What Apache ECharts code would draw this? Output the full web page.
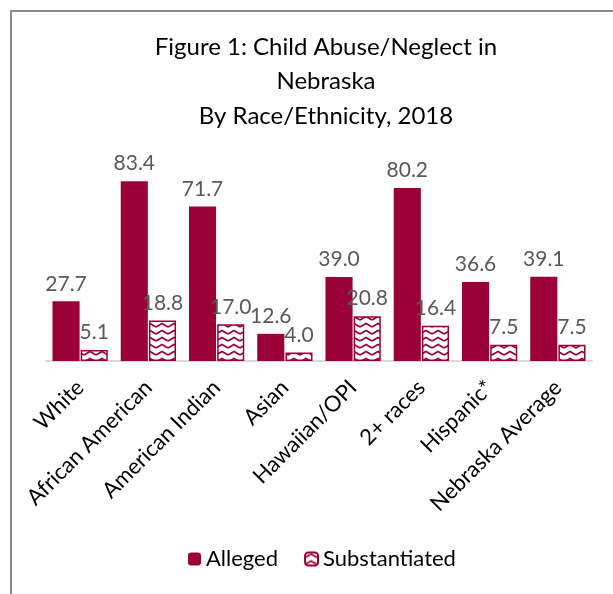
<!DOCTYPE html>
<html>
<head>
<meta charset="utf-8">
<script src="https://cdn.jsdelivr.net/npm/echarts@6/dist/echarts.min.js"></script>
<style>
  html, body { margin: 0; padding: 0; background: #fff; }
  #frame {
    position: absolute; left: 10px; top: 10px; width: 620px; height: 600px;
    border-left: 2px solid #8c8c8c; border-top: 2px solid #8c8c8c;
  }
  #chart { position: absolute; left: 0; top: 0; width: 613px; height: 594px; }
</style>
</head>
<body>
<div id="frame"></div>
<div id="chart"></div>
<script>
const categories = ['White', 'African American', 'American Indian', 'Asian',
  'Hawaiian/OPI', '2+ races', 'Hispanic*', 'Nebraska Average'];
const alleged = [27.7, 83.4, 71.7, 12.6, 39.0, 80.2, 36.6, 39.1];
const substantiated = [5.1, 18.8, 17.0, 4.0, 20.8, 16.4, 7.5, 7.5];

const RED = '#9b0036';
const FONT = 'Lato, "Open Sans", sans-serif';

// zigzag fill for the substantiated bars
function zigzag() {
  const c = document.createElement('canvas');
  c.width = 12; c.height = 7;
  const g = c.getContext('2d');
  g.fillStyle = '#fff';
  g.fillRect(0, 0, 12, 7);
  g.strokeStyle = RED;
  g.lineWidth = 1.6;
  g.beginPath();
  g.moveTo(0, 5); g.lineTo(6, 1.5); g.lineTo(12, 5);
  g.stroke();
  return c;
}

const chart = echarts.init(document.getElementById('chart'));
const label = {
  show: true, position: 'top', distance: 7,
  color: '#595959', fontSize: 21, fontFamily: FONT,
  formatter: p => p.value.toFixed(1)
};

chart.setOption({
  animation: false,
  title: {
    text: 'Figure 1: Child Abuse/Neglect in\nNebraska\nBy Race/Ethnicity, 2018',
    left: 321, top: 25, textAlign: 'center',
    textStyle: { fontSize: 24, fontWeight: 'normal', color: '#000', fontFamily: FONT, lineHeight: 34.5 }
  },
  legend: {
    bottom: 19, left: 183, itemWidth: 13, itemHeight: 13, itemGap: 26,
    textStyle: { fontSize: 22, color: '#000', fontFamily: FONT },
    data: ['Alleged', 'Substantiated']
  },
  grid: { left: 46, right: 21, top: 167, bottom: 233 },
  xAxis: {
    type: 'category', data: categories,
    axisLine: { lineStyle: { color: '#d9d9d9', width: 2 } },
    axisTick: { show: false },
    axisLabel: { rotate: 45, interval: 0, margin: 23, fontSize: 22, color: '#000', fontFamily: FONT }
  },
  yAxis: { type: 'value', min: 0, max: 90, show: false, splitLine: { show: false } },
  series: [
    {
      name: 'Alleged', type: 'bar', data: alleged,
      barGap: '4%', barCategoryGap: '19%',
      itemStyle: { color: RED },
      label: label
    },
    {
      name: 'Substantiated', type: 'bar', data: substantiated,
      itemStyle: { color: { image: zigzag(), repeat: 'repeat' }, borderColor: RED, borderWidth: 1.5 },
      label: label
    }
  ]
});
</script>
</body>
</html>
